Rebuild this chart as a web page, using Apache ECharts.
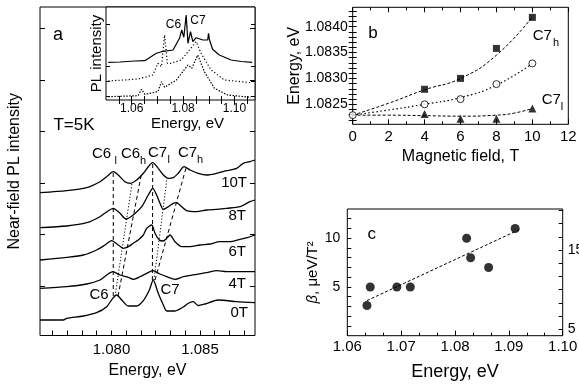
<!DOCTYPE html>
<html><head><meta charset="utf-8">
<script src="https://cdn.jsdelivr.net/npm/echarts@6/dist/echarts.min.js"></script>
<style>html,body{margin:0;padding:0;background:#fff}#c{width:579px;height:387px}</style>
</head><body><div id="c"></div>
<script>
// ---------- Panel a: near-field spectra (energy eV, offset intensity arb.u.) ----------
const e10T = [1.07596,1.07747,1.07860,1.07935,1.07973,1.08010,1.08038,1.08076,1.08105,1.08142,1.08180,1.08208,1.08233,1.08264,1.08293,1.08321,1.08349,1.08377,1.08410,1.08444,1.08490,1.08538,1.08594,1.08651,1.08707,1.08745,1.08782,1.08811];
const i10T = [142.8,144.8,147.8,153.8,158.8,163.8,160.5,153.8,152.2,155.5,162.2,168.8,172.8,167.2,160.5,157.2,157.8,162.2,168.8,165.5,162.2,160.5,162.2,164.8,167.2,172.2,173.8,175.5];
const e8T = [1.07596,1.07747,1.07860,1.07935,1.07982,1.08010,1.08048,1.08082,1.08123,1.08171,1.08208,1.08233,1.08255,1.08274,1.08293,1.08321,1.08349,1.08368,1.08397,1.08425,1.08481,1.08538,1.08594,1.08651,1.08726,1.08782,1.08811];
const i8T = [107.8,109.5,112.8,118.8,124.8,127.2,122.2,116.5,120.5,128.8,140.5,147.2,140.5,132.2,126.2,128.8,132.2,132.8,128.8,124.8,123.8,125.5,126.2,127.2,128.8,133.8,135.5];
const e6T = [1.07596,1.07747,1.07841,1.07916,1.07963,1.08001,1.08038,1.08067,1.08095,1.08123,1.08151,1.08180,1.08199,1.08227,1.08246,1.08270,1.08293,1.08312,1.08331,1.08359,1.08397,1.08444,1.08500,1.08556,1.08613,1.08669,1.08726,1.08773,1.08811];
const i6T = [75.5,78.2,80.5,85.5,90.5,94.8,90.5,87.2,88.8,92.2,95.5,100.5,107.2,110.5,102.2,95.5,94.5,97.2,100.5,93.8,88.8,88.8,90.5,91.5,93.8,93.8,96.2,98.2,100.5];
const e4T = [1.07596,1.07747,1.07860,1.07935,1.07973,1.08007,1.08048,1.08095,1.08123,1.08161,1.08199,1.08233,1.08274,1.08312,1.08359,1.08406,1.08481,1.08538,1.08594,1.08651,1.08726,1.08811];
const i4T = [47.2,48.8,51.5,55.5,60.5,63.8,60.5,58.2,56.2,58.8,62.2,64.8,61.5,58.8,56.2,58.8,61.2,62.8,64.8,63.8,63.8,63.8];
const e0T = [1.07596,1.07728,1.07747,1.07841,1.07916,1.07973,1.08007,1.08029,1.08058,1.08095,1.08142,1.08180,1.08214,1.08236,1.08264,1.08293,1.08312,1.08359,1.08406,1.08434,1.08462,1.08490,1.08528,1.08603,1.08707,1.08811];
const i0T = [15.5,15.5,17.2,19.5,22.8,28.8,37.2,40.5,35.5,29.5,29.5,34.8,45.5,55.5,42.2,30.5,24.5,24.5,28.5,32.2,33.8,30,31.5,35.5,33.8,32.8];
// guide lines: [E start, E end], [I start, I end]
const guideDashE = [[1.08010,1.08010],[1.08037,1.08167],[1.08231,1.08233],[1.08246,1.08421]];
const guideDashI = [[39.5,163.8],[39.5,159.5],[55.5,172.8],[55.5,167.5]];
const guideDotE = [[1.08020,1.08116],[1.08240,1.08314]];
const guideDotI = [[39.5,152.2],[55.5,157.5]];
const mainTickE = [1.0766667,1.0775,1.0783333,1.0791667,1.08,1.0808333,1.0816667,1.0825,1.0833333,1.0841667,1.085,1.0858333,1.0866667,1.0875];
const mainLabelE = [1.080,1.085];
const mainTickI = [49.5,101.5,152.5,204.5,255.5,307.5];

// ---------- Inset: far-field PL ----------
const insEsolid = [1.0509,1.0554,1.0612,1.0651,1.0696,1.0716,1.0761,1.0786,1.0795,1.0803,1.0812,1.0819,1.0829,1.0838,1.0851,1.0877,1.0896,1.0899,1.0903,1.0915,1.0941,1.0987,1.1027,1.1069];
const insIsolid = [37.7,38,39,39.3,46.7,48.3,50,61.7,70,62.7,85,56.7,68.3,58.3,62.3,60,60,66.7,60,50.7,45,40,38.5,37.7];
const insEmid = [1.0509,1.0625,1.0683,1.0702,1.0716,1.0728,1.0739,1.0754,1.0793,1.0825,1.0851,1.0870,1.0909,1.0961,1.1064];
const insImid = [19,21,25,36.7,33.3,65,36.7,36.7,40,50,58.3,46.7,30,20,17.3];
const insElow = [1.0509,1.0625,1.0638,1.0651,1.0702,1.0716,1.0728,1.0774,1.0819,1.0834,1.0857,1.0883,1.0922,1.0973,1.1064];
const insIlow = [3.3,4.3,10.7,5.7,8.3,18.3,12.7,20,35,31.7,45,28.3,11.7,5,2.7];
const insTickE = [1.055,1.06,1.065,1.07,1.075,1.08,1.085,1.09,1.095,1.10,1.105];
const insLabelE = [1.06,1.08,1.10];
const insTickI = [76,34,19,3.5];

// ---------- Panel b ----------
const bFieldSq = [4,6,8,10];
const bSqE = [1.08279,1.08300,1.08358,1.08418];
const bFieldCi = [0,4,6,8,10];
const bCiE = [1.08229,1.0825,1.08260,1.08289,1.08329];
const bFieldTr = [4,6,8,10];
const bTrE = [1.08231,1.08222,1.08222,1.08242];
const bFitField = [0,2,4,6,8,10];
const bFitSqE = [1.08229,1.08252,1.08278,1.0830,1.08345,1.08419];
const bFitCiE = [1.08229,1.08239,1.0825,1.08263,1.08287,1.08329];
const bFitTrField = [0,2,4,6,8,9,10];
const bFitTrE = [1.08229,1.08229,1.08228,1.08227,1.08229,1.08233,1.08242];
const bTickE = [1.0822,1.0823,1.0824,1.0825,1.0826,1.0827,1.0828,1.0829,1.083,1.0831,1.0832,1.0833,1.0834,1.0835,1.0836,1.0837,1.0838,1.0839,1.084,1.0841,1.0842,1.0843];
const bLabelE = [1.0825,1.083,1.0835,1.084];

// ---------- Panel c ----------
const cE = [1.06365,1.06426,1.0692,1.0717,1.08216,1.0829,1.08624,1.09117];
const cBeta = [3.1,5,5,5,10,8,7,11];
const cFitE = [1.06365,1.0920];
const cFitBeta = [3.6,10.9];
const cTickL = [1,2,3,4,5,6,7,8,9,10,11,12];
const cLabelL = [5,10];
const cTickR = [5,6.667,8.333,10,11.667,13.333,15,16.667,18.333,20];
const cLabelR = [5,15];

const F = 'Liberation Sans';
const zip = (a,b) => a.map((v,i)=>[v,b[i]]);
const blk = '#000';
const tickStyle = {color: blk, width: 1};

function txt(t, x, y, size, align, extra) {
  return Object.assign({type:'text', x:x, y:y, z:100,
    style:{text:t, font: size+'px "'+F+'"', fill: blk, align: align||'left', verticalAlign:'middle'}}, extra||{});
}

const chart = echarts.init(document.getElementById('c'), null, {renderer:'canvas'});
const lineSeries = (xi, yi, e, v, type, w) => ({
  type:'line', xAxisIndex:xi, yAxisIndex:yi, data: zip(e,v), symbol:'none', smooth:false,
  lineStyle:{color:blk, width: w||1.2, type: type||'solid'}, silent:true, animation:false
});

const series = [];
[[e10T,i10T],[e8T,i8T],[e6T,i6T],[e4T,i4T],[e0T,i0T]].forEach(p=>{
  const s = lineSeries(0,0,p[0],p[1],'solid',1.3); s.smooth = 0.25; series.push(s);
});
guideDashE.forEach((e,k)=>series.push(lineSeries(0,0,e,guideDashI[k],[4,3],1)));
guideDotE.forEach((e,k)=>series.push(lineSeries(0,0,e,guideDotI[k],[1.2,2],1)));
series.push(lineSeries(1,2,insEsolid,insIsolid,'solid',1.2));
series.push(lineSeries(1,2,insEmid,insImid,[1.2,2.2],1.2));
series.push(lineSeries(1,2,insElow,insIlow,[1.5,1.5],1.2));
// panel b fits
(()=>{ const s=lineSeries(3,4,bFitField,bFitSqE,[3,2],1); s.smooth=true; series.push(s);
  const s2=lineSeries(3,4,bFitField,bFitCiE,[1.5,2.5],1.2); s2.smooth=true; series.push(s2);
  const s3=lineSeries(3,4,bFitTrField,bFitTrE,[3,2],1); s3.smooth=true; series.push(s3);})();
series.push({type:'scatter', xAxisIndex:3, yAxisIndex:4, data:zip(bFieldSq,bSqE), symbol:'rect', symbolSize:7, itemStyle:{color:blk}, z:5, animation:false});
series.push({type:'scatter', xAxisIndex:3, yAxisIndex:4, data:zip(bFieldCi,bCiE), symbol:'circle', symbolSize:7, itemStyle:{color:'#fff', borderColor:blk, borderWidth:1}, z:5, animation:false});
series.push({type:'scatter', xAxisIndex:3, yAxisIndex:4, data:zip(bFieldTr,bTrE), symbol:'triangle', symbolSize:8, itemStyle:{color:blk}, z:5, animation:false});
// panel c
series.push(lineSeries(5,6,cFitE,cFitBeta,[3,2],1));
series.push({type:'scatter', xAxisIndex:5, yAxisIndex:6, data:zip(cE,cBeta), symbol:'circle', symbolSize:9, itemStyle:{color:blk}, z:5, animation:false});

const noLine = {show:false};
const lab = (size, extra) => Object.assign({color:blk, fontFamily:F, fontSize:size}, extra||{});
const gridBase = {show:true, borderColor:blk, borderWidth:1, containLabel:false, outerBoundsMode:'none'};

const option = {
  animation:false,
  backgroundColor:'#fff',
  grid:[
    Object.assign({left:40, top:7, width:215, height:328.5, backgroundColor:'rgba(0,0,0,0)'}, gridBase),
    Object.assign({left:106, top:7, width:149, height:93, backgroundColor:'#fff'}, gridBase),
    Object.assign({left:352.7, top:7.3, width:215.6, height:117, backgroundColor:'rgba(0,0,0,0)'}, gridBase),
    Object.assign({left:347.3, top:209, width:215.4, height:126.7, backgroundColor:'rgba(0,0,0,0)'}, gridBase)
  ],
  xAxis:[
    {gridIndex:0, type:'value', min:1.07596, max:1.08811, axisLine:noLine, splitLine:{show:false},
      axisTick:{inside:true, length:5, customValues:mainTickE, lineStyle:tickStyle},
      axisLabel:lab(15,{customValues:mainLabelE, margin:7, formatter:v=>v.toFixed(3)}),
      name:'Energy, eV', nameLocation:'middle', nameGap:25, nameTextStyle:lab(16)},
    {gridIndex:1, type:'value', min:1.05, max:1.108, axisLine:noLine, splitLine:{show:false},
      axisTick:{inside:true, length:4, customValues:insTickE, lineStyle:tickStyle},
      axisLabel:lab(12,{customValues:insLabelE, margin:3, formatter:v=>v.toFixed(2)}),
      name:'Energy, eV', nameLocation:'middle', nameGap:16, nameTextStyle:lab(15,{padding:[0,0,0,14]})},
    {gridIndex:1, type:'value', position:'top', min:1.05, max:1.108, axisLine:noLine, splitLine:{show:false},
      axisTick:{inside:true, length:4, customValues:insTickE, lineStyle:tickStyle}, axisLabel:{show:false}},
    {gridIndex:2, type:'value', min:0, max:12, interval:2, axisLine:noLine, splitLine:{show:false},
      axisTick:{inside:true, length:5, lineStyle:tickStyle},
      minorTick:{show:true, splitNumber:2, length:3, lineStyle:tickStyle},
      axisLabel:lab(15,{margin:5}),
      name:'Magnetic field, T', nameLocation:'middle', nameGap:24, nameTextStyle:lab(16)},
    {gridIndex:2, type:'value', position:'top', min:0, max:12, interval:2, axisLine:noLine, splitLine:{show:false},
      axisTick:{inside:true, length:5, lineStyle:tickStyle},
      minorTick:{show:true, splitNumber:2, length:3, lineStyle:tickStyle}, axisLabel:{show:false}},
    {gridIndex:3, type:'value', min:1.06, max:1.10, interval:0.01, axisLine:noLine, splitLine:{show:false},
      axisTick:{inside:true, length:5, lineStyle:tickStyle},
      minorTick:{show:true, splitNumber:3, length:3, lineStyle:tickStyle},
      axisLabel:lab(15,{margin:4, formatter:v=>v.toFixed(2)}),
      name:'Energy, eV', nameLocation:'middle', nameGap:27, nameTextStyle:lab(18)}
  ],
  yAxis:[
    {gridIndex:0, type:'value', min:0, max:328.5, axisLine:noLine, splitLine:{show:false},
      axisTick:{inside:true, length:5, customValues:mainTickI, lineStyle:tickStyle}, axisLabel:{show:false},
      name:'Near-field PL intensity', nameLocation:'middle', nameGap:17, nameTextStyle:lab(16)},
    {gridIndex:0, type:'value', position:'right', min:0, max:328.5, axisLine:noLine, splitLine:{show:false},
      axisTick:{inside:true, length:5, customValues:mainTickI, lineStyle:tickStyle}, axisLabel:{show:false}},
    {gridIndex:1, type:'value', min:0, max:93, axisLine:noLine, splitLine:{show:false},
      axisTick:{inside:true, length:4, customValues:insTickI, lineStyle:tickStyle}, axisLabel:{show:false},
      name:'PL intensity', nameLocation:'middle', nameGap:2, nameTextStyle:lab(15)},
    {gridIndex:1, type:'value', position:'right', min:0, max:93, axisLine:noLine, splitLine:{show:false},
      axisTick:{inside:true, length:4, customValues:insTickI, lineStyle:tickStyle}, axisLabel:{show:false}},
    {gridIndex:2, type:'value', min:1.082113, max:1.084375, axisLine:noLine, splitLine:{show:false},
      axisTick:{inside:true, length:4, customValues:bTickE, lineStyle:tickStyle},
      axisLabel:lab(14,{customValues:bLabelE, margin:5, formatter:v=>v.toFixed(4)}),
      name:'Energy, eV', nameLocation:'middle', nameGap:50, nameMoveOverlap:false, nameTextStyle:lab(16)},
    {gridIndex:2, type:'value', position:'right', min:1.082113, max:1.084375, axisLine:noLine, splitLine:{show:false},
      axisTick:{inside:true, length:4, customValues:bTickE, lineStyle:tickStyle}, axisLabel:{show:false}},
    {gridIndex:3, type:'value', min:0, max:13, axisLine:noLine, splitLine:{show:false},
      axisTick:{inside:true, length:4, customValues:cTickL, lineStyle:tickStyle},
      axisLabel:lab(14,{customValues:cLabelL, margin:7}),
      name:'{i|β}, μeV/T²', nameLocation:'middle', nameGap:26,
      nameTextStyle:lab(15,{rich:{i:{fontStyle:'italic', fontFamily:F, fontSize:15, color:blk}}})},
    {gridIndex:3, type:'value', position:'right', min:4.19, max:20.17, axisLine:noLine, splitLine:{show:false},
      axisTick:{inside:true, length:4, customValues:cTickR, lineStyle:tickStyle},
      axisLabel:lab(14,{customValues:cLabelR, margin:5})}
  ],
  series: series,
  graphic:[
    txt('a', 58, 35, 18, 'center'),
    txt('T=5K', 74, 125, 17, 'center'),
    txt('10T', 247, 183, 15, 'right'),
    txt('8T', 246, 216, 15, 'right'),
    txt('6T', 246, 251.7, 15, 'right'),
    txt('4T', 246, 284, 15, 'right'),
    txt('0T', 248, 313.3, 15, 'right'),
    txt('C6', 92, 154, 15), txt('l', 114.5, 161, 11),
    txt('C6', 121, 154, 15), txt('h', 140, 161, 11),
    txt('C7', 148, 153, 15), txt('l', 167.5, 160, 11),
    txt('C7', 178, 153, 15), txt('h', 197, 160, 11),
    txt('C6', 99, 295, 15, 'center'),
    txt('C7', 170, 290, 15, 'center'),
    txt('C6', 173.5, 25, 12, 'center'),
    txt('C7', 198, 20.7, 12, 'center'),
    txt('b', 373, 33, 17, 'center'),
    txt('C7', 532.7, 36, 15), txt('h', 553, 42.7, 11),
    txt('C7', 541.7, 100, 15), txt('l', 560.7, 107, 11),
    txt('c', 371.7, 234, 17, 'center')
  ]
};
chart.setOption(option);
</script></body></html>
